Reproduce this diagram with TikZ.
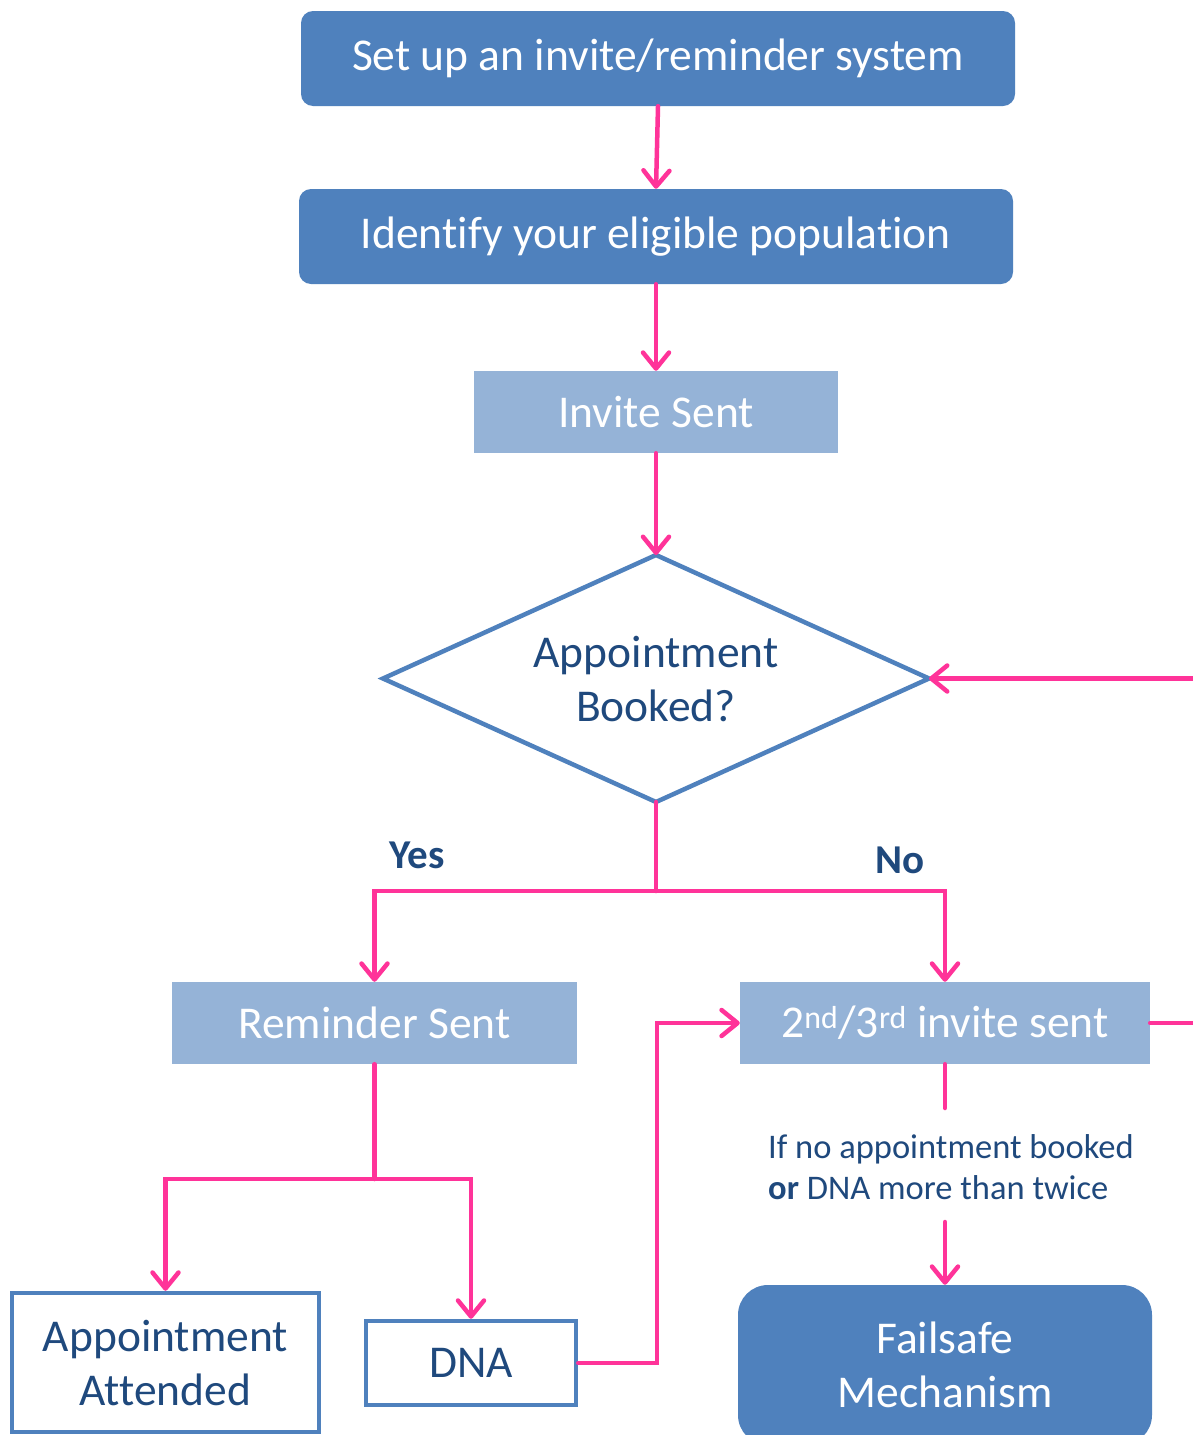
\documentclass[tikz,border=0pt]{standalone}
\usepackage{fontspec}
\setmainfont{Carlito}[Ligatures=NoCommon]
\usetikzlibrary{arrows.meta,shapes.geometric}
\definecolor{boxblue}{HTML}{4F81BD}
\definecolor{lightblue}{HTML}{95B3D7}
\definecolor{darkblue}{HTML}{1F497D}
\definecolor{hotpink}{HTML}{FF3399}
\begin{document}
\begin{tikzpicture}[x=1pt,y=-1pt,
  bigfont/.style={font=\fontsize{45.5}{54}\selectfont},
  darkbox/.style={bigfont, fill=boxblue, draw=none, rounded corners=12pt, text=white, inner sep=0pt, minimum width=714pt, minimum height=95pt},
  lightbox/.style={bigfont, fill=lightblue, draw=none, text=white, inner sep=0pt, minimum height=82pt},
  outbox/.style={bigfont, fill=white, draw=boxblue, line width=4.5pt, text=darkblue, inner sep=0pt, align=center},
  pinkline/.style={draw=hotpink, line width=4.5pt, line cap=round, line join=miter},
  arr/.style={pinkline, -{Straight Barb[length=16pt,width=26pt,line cap=round,line join=round]}},
  lbl/.style={font=\fontsize{41}{48}\selectfont\bfseries, text=darkblue, inner sep=0pt}
]
\useasboundingbox (0,0) rectangle (1193,1435);
\fill[white] (0,0) rectangle (1193,1435);

\node[darkbox] (b1) at (658,58.5) {\raisebox{-6pt}{Set up an invite/reminder system}};
\node[darkbox] (b2) at (656,236.5) {\raisebox{-6pt}{Identify your eligible population}};
\node[lightbox, minimum width=364pt] (inv) at (656,412) {\raisebox{-3pt}{Invite Sent}};
\node[bigfont, shape=diamond, draw=boxblue, line width=4.5pt, fill=white, text=darkblue, align=center,
      minimum width=546pt, minimum height=247pt, aspect=2.21, inner sep=0pt, outer sep=0pt] (dia) at (656,678.5) {Appointment\\Booked?};
\node[lightbox, minimum width=405pt] (rem) at (374.5,1023) {\raisebox{-3pt}{Reminder Sent}};
\node[lightbox, minimum width=410pt] (inv2) at (945,1023) {\raisebox{-3pt}{2\textsuperscript{nd}/3\textsuperscript{rd} invite sent}};
\node[outbox, minimum width=307pt, minimum height=139pt] (att) at (165.5,1362.5) {Appointment\\Attended};
\node[outbox, minimum width=210pt, minimum height=84pt] (dna) at (471,1363) {DNA};
\node[bigfont, fill=boxblue, draw=none, rounded corners=30pt, text=white, align=center, inner sep=0pt,
      minimum width=414pt, minimum height=160pt] (fail) at (945,1365) {Failsafe\\Mechanism};

\node[lbl] (yes) at (417,855) {Yes};
\node[lbl] (no) at (900,860) {No};
\node[font=\fontsize{34.5}{41}\selectfont, text=darkblue, align=left, anchor=west, inner sep=0pt] (note) at (768,1167)
  {If no appointment booked\\\textbf{or} DNA more than twice};

\coordinate (split) at (656,891);
\coordinate (split2) at (374.5,1179);
\coordinate (j) at (657,1363);
\coordinate (c1) at (945,1108);
\coordinate (c2) at (945,1222);
\coordinate (r1) at (1205,1023);
\coordinate (r2) at (1205,678.5);

\draw[arr] (b1.south) -- (b2.north);
\draw[arr] (b2.south) -- (inv.north);
\draw[arr] (inv.south) -- (dia.north);
\draw[pinkline] (dia.south) -- (split);
\draw[arr] (split) -| (rem.north);
\draw[arr] (split) -| (inv2.north);
\draw[pinkline] (rem.south) -- (split2);
\draw[arr] (split2) -| (att.north);
\draw[arr] (split2) -| (dna.north);
\draw[arr] (dna.east) -- (j) |- (inv2.west);
\draw[pinkline] (inv2.south) -- (c1);
\draw[arr] (c2) -- (fail.north);
\draw[arr] (inv2.east) -- (r1) -- (r2) -- (dia.east);
\end{tikzpicture}
\end{document}
